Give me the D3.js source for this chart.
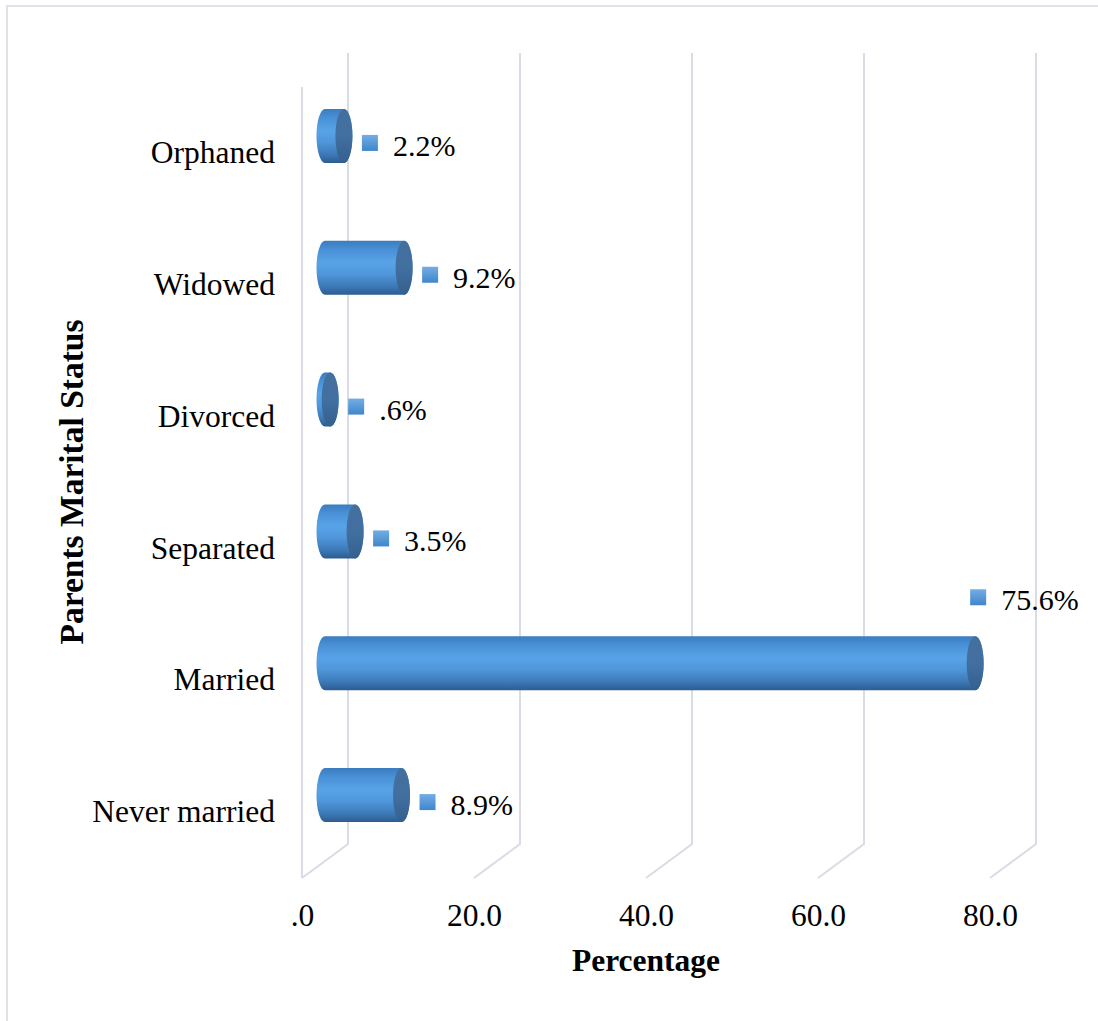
<!DOCTYPE html>
<html>
<head>
<meta charset="utf-8">
<script src="https://cdn.jsdelivr.net/npm/d3@7"></script>
<style>
  html, body { margin: 0; padding: 0; background: #fff; }
  svg { display: block; }
</style>
</head>
<body>
<svg id="chart" width="1098" height="1021"></svg>
<script>
// Parents' marital status, percentage of respondents
const categories = ["Orphaned", "Widowed", "Divorced", "Separated", "Married", "Never married"];
const percentages = [2.2, 9.2, 0.6, 3.5, 75.6, 8.9];
const valueLabels = ["2.2%", "9.2%", ".6%", "3.5%", "75.6%", "8.9%"];
const tickValues = [0, 20, 40, 60, 80];
const tickLabels = [".0", "20.0", "40.0", "60.0", "80.0"];

const W = 1098, H = 1021;
const serif = '"Liberation Serif", "Times New Roman", Times, serif';
const svg = d3.select("#chart").attr("font-family", serif);

// front plane of the 3-D plot box and the depth offset to its back wall
const plot = { left: 302, right: 990, top: 87, bottom: 878 };
const depth = { dx: 46, dy: -34 };

const x = d3.scaleLinear().domain([0, 80]).range([plot.left, plot.right]);
const y = d3.scaleBand().domain(categories).range([plot.top, plot.bottom]);

const gridColor = "#d9dce4";

// outer chart border
svg.append("rect")
  .attr("x", 7).attr("y", 6).attr("width", W + 10).attr("height", H + 10)
  .attr("fill", "none").attr("stroke", "#dfe2e8").attr("stroke-width", 2);

const defs = svg.append("defs");
const bodyGrad = defs.append("linearGradient").attr("id", "cylBody")
  .attr("x1", 0).attr("y1", 0).attr("x2", 0).attr("y2", 1);
[[0, "#3b7cbf"], [0.18, "#4a92d8"], [0.4, "#58a3e8"], [0.62, "#4f96da"], [0.85, "#3c78b6"], [1, "#2c5c8e"]]
  .forEach(([o, c]) => bodyGrad.append("stop").attr("offset", o).attr("stop-color", c));
const capGrad = defs.append("linearGradient").attr("id", "cylCap")
  .attr("x1", 0).attr("y1", 0).attr("x2", 0).attr("y2", 1);
[[0, "#44709e"], [0.5, "#416fa0"], [1, "#34608e"]]
  .forEach(([o, c]) => capGrad.append("stop").attr("offset", o).attr("stop-color", c));
const keyGrad = defs.append("linearGradient").attr("id", "keyFill")
  .attr("x1", 0).attr("y1", 0).attr("x2", 0).attr("y2", 1);
[[0, "#74ade5"], [1, "#3f86cb"]]
  .forEach(([o, c]) => keyGrad.append("stop").attr("offset", o).attr("stop-color", c));

// gridlines: vertical on the back wall, then running forward across the floor
const grid = svg.append("g").attr("stroke", gridColor).attr("stroke-width", 2).attr("fill", "none");
grid.selectAll("path.grid").data(tickValues).join("path")
  .attr("class", "grid")
  .attr("d", d => {
    const bx = x(d) + depth.dx;
    return `M${bx},${plot.top + depth.dy} L${bx},${plot.bottom + depth.dy} L${x(d)},${plot.bottom}`;
  });
// front edge of the side wall
grid.append("path").attr("d", `M${plot.left},${plot.top} L${plot.left},${plot.bottom}`);

// cylinders sit half way into the depth of the box
const midX = v => x(v) + depth.dx / 2;
const midY = c => y(c) + y.bandwidth() / 2 + depth.dy / 2;
const ry = y.bandwidth() * 0.205;
const rx = 8.5;

const rows = categories.map((c, i) => ({ cat: c, value: percentages[i], label: valueLabels[i] }));

const bars = svg.append("g").selectAll("g.bar").data(rows).join("g").attr("class", "bar");
bars.append("path")
  .attr("fill", "url(#cylBody)")
  .attr("d", d => {
    const x0 = midX(0), x1 = midX(d.value), cy = midY(d.cat);
    return `M${x0},${cy - ry} L${x1},${cy - ry} A${rx},${ry} 0 0 1 ${x1},${cy + ry}` +
           ` L${x0},${cy + ry} A${rx},${ry} 0 0 1 ${x0},${cy - ry} Z`;
  });
bars.append("ellipse")
  .attr("fill", "url(#cylCap)")
  .attr("cx", d => midX(d.value)).attr("cy", d => midY(d.cat))
  .attr("rx", rx).attr("ry", ry);

// value labels with legend key
const keySize = 16;
const valueFont = 30;
const labels = svg.append("g").selectAll("g.vlabel").data(rows).join("g").attr("class", "vlabel")
  .attr("transform", d => {
    const ex = midX(d.value), cy = midY(d.cat);
    const textW = d.label.length * valueFont * 0.52;
    if (ex + 18 + keySize + 14 + textW > W - 10) {
      // no room past the end of the bar: sit the label above it
      return `translate(${ex - 5},${cy - 66})`;
    }
    return `translate(${ex + 18},${cy + 7})`;
  });
labels.append("rect")
  .attr("x", 0).attr("y", -keySize / 2).attr("width", keySize).attr("height", keySize)
  .attr("fill", "url(#keyFill)");
labels.append("text")
  .attr("x", keySize + 15).attr("y", 13)
  .attr("font-family", serif)
  .attr("font-size", valueFont).attr("fill", "#000")
  .text(d => d.label);

// category axis
const yAxis = svg.append("g")
  .attr("transform", `translate(${plot.left - 22},0)`)
  .call(d3.axisLeft(y).tickSize(0).tickPadding(5));
yAxis.attr("font-family", serif);
yAxis.select(".domain").remove();
yAxis.selectAll("text")
  .attr("font-family", serif)
  .attr("font-size", 31.5).attr("fill", "#000");

// value axis
const xAxis = svg.append("g")
  .attr("transform", `translate(0,${plot.bottom})`)
  .call(d3.axisBottom(x).tickValues(tickValues).tickFormat((d, i) => tickLabels[i]).tickSize(0).tickPadding(26));
xAxis.attr("font-family", serif);
xAxis.select(".domain").remove();
xAxis.selectAll("text")
  .attr("font-family", serif)
  .attr("font-size", 31.5).attr("fill", "#000");

// axis titles
svg.append("text")
  .attr("x", 646).attr("y", 971)
  .attr("text-anchor", "middle")
  .attr("font-family", serif)
  .attr("font-size", 31.5).attr("font-weight", "bold").attr("fill", "#000")
  .text("Percentage");
svg.append("text")
  .attr("transform", "translate(83,482) rotate(-90)")
  .attr("text-anchor", "middle")
  .attr("font-family", serif)
  .attr("font-size", 33.5).attr("font-weight", "bold").attr("fill", "#000")
  .text("Parents Marital Status");
</script>
</body>
</html>
